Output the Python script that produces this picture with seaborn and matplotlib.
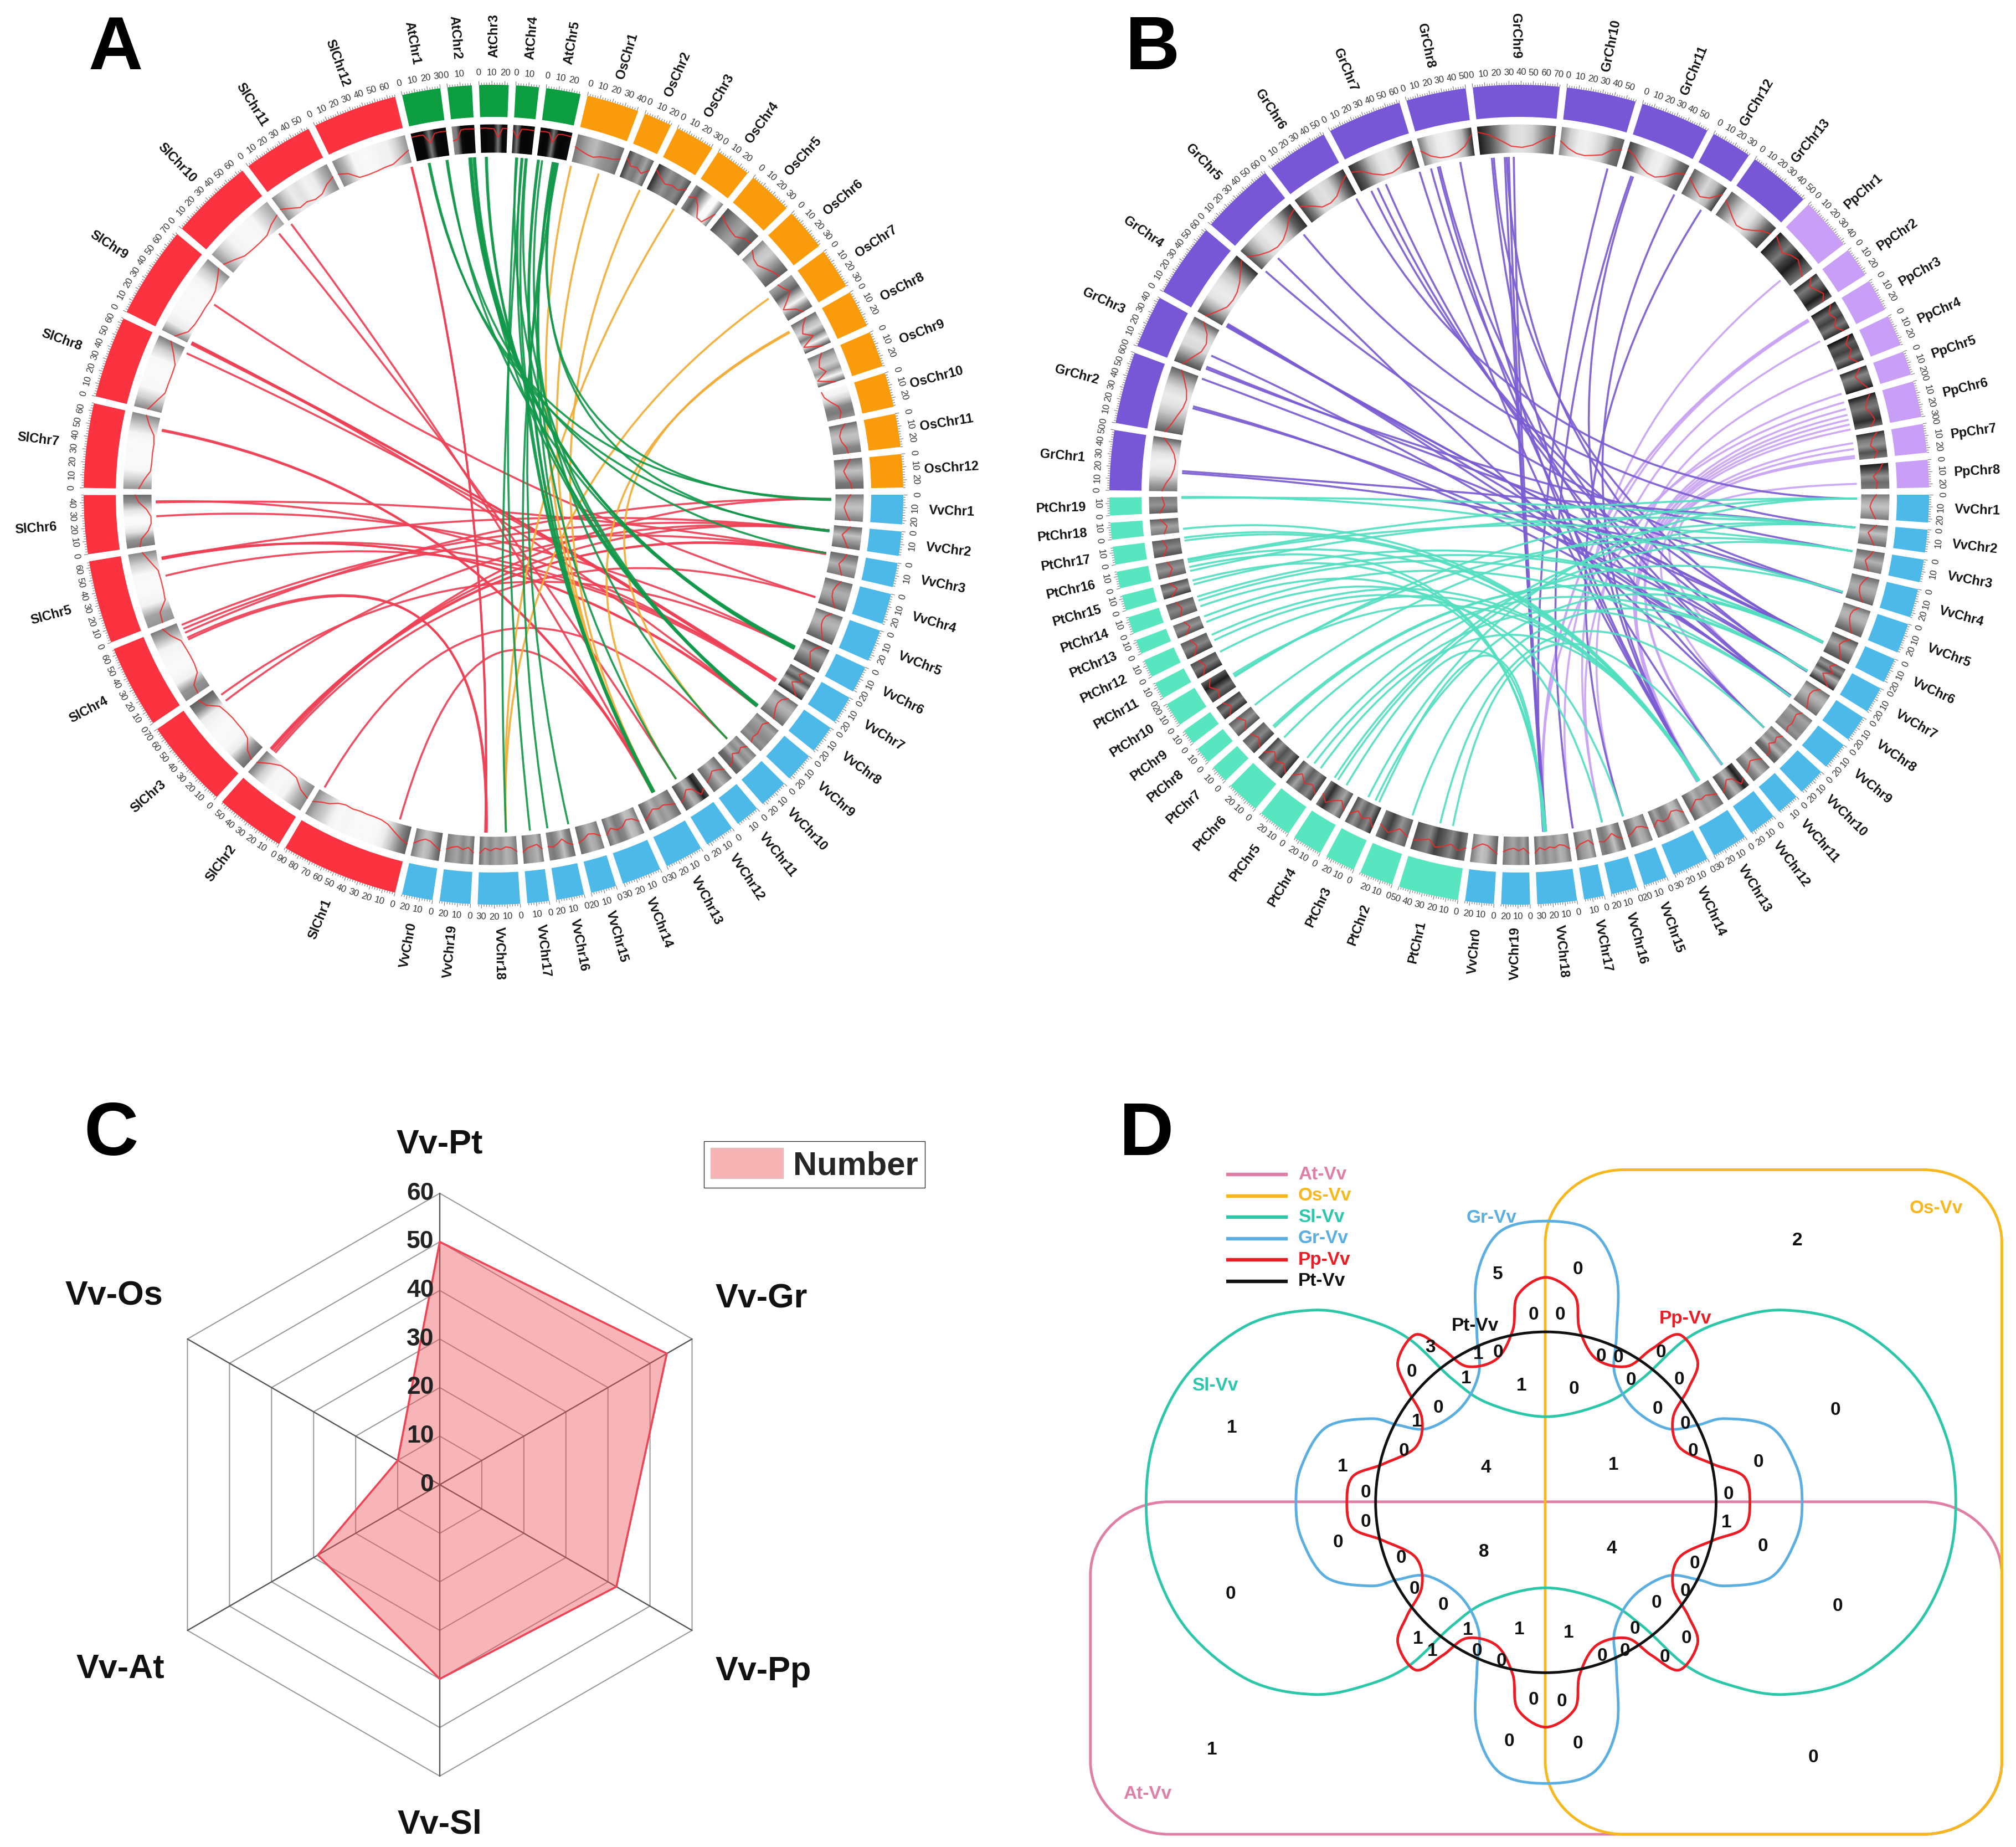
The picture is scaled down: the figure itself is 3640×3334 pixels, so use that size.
import numpy as np
import matplotlib
matplotlib.use("Agg")
import matplotlib.pyplot as plt
import seaborn as sns
from matplotlib.patches import Wedge, PathPatch, Patch, Ellipse
from matplotlib.path import Path
from matplotlib.collections import LineCollection

# ---------- chromosome sizes (Mb) ----------
AT_SIZES = [30, 19, 23, 18, 27]
OS_SIZES = [41, 22, 31, 28, 35, 33, 32, 29, 28, 27, 26, 26]
VV_SIZES = [23, 19, 19, 24, 25, 21, 22, 22, 23, 23, 19, 23, 30, 31, 20, 22, 17, 33, 24, 24]
VV_ORDER = [str(i) for i in range(1, 20)] + ["0"]
SL_SIZES = [92, 55, 70, 65, 65, 46, 66, 64, 72, 65, 55, 66]
GR_SIZES = [50, 60, 44, 62, 62, 52, 62, 50, 72, 58, 58, 34, 52]
PP_SIZES = [44, 25, 27, 26, 20, 30, 24, 23]
PT_SIZES = [50, 28, 25, 25, 28, 28, 15, 14, 13, 20, 14, 15, 12, 14, 13, 14, 15, 14, 15]

# ---------- density profiles along each chromosome (0-1) ----------
AT_DENS = [[.97,.98,.97,.6,.95,.98,.97],[.55,.6,.96,.98,.97,.96],[.97,.98,.96,.95,.6,.97,.96],
           [.9,.6,.97,.98,.97,.96],[.96,.98,.96,.6,.95,.98,.97,.96]]
OS_DENS = [[.6,.5,.42,.38,.48,.52,.55,.65],[.8,.55,.6,.45,.7],[.85,.65,.5,.6,.55,.75],
           [.55,.7,.45,.05,.03,.6],[.75,.6,.5,.45,.65,.7],[.55,.35,.3,.45,.6,.7],
           [.45,.55,.7,.4,.06,.5,.7],[.65,.4,.25,.6,.05,.75],[.6,.4,.3,.5,.05,.7],
           [.05,.1,.3,.55,.6,.5],[.65,.45,.35,.4,.55,.6],[.65,.5,.35,.45,.6,.65]]
VV_DENS = [[.6,.48,.4,.35,.42,.5,.6],[.65,.5,.35,.45,.55,.65],[.65,.55,.4,.5,.6],
           [.65,.5,.42,.45,.55,.7],[.65,.45,.4,.42,.5,.6,.7],[.75,.55,.45,.55,.65,.75],
           [.7,.5,.75,.4,.6,.85],[.65,.45,.4,.45,.55,.65],[.6,.45,.5,.55,.5,.6],
           [.6,.45,.55,.4,.65,.7],[.65,.5,.4,.55,.65],[.75,.9,.5,.4,.6,.75],
           [.65,.55,.45,.5,.4,.55,.7],[.6,.4,.35,.55,.6,.45,.65],[.6,.45,.4,.55,.65],
           [.65,.55,.35,.5,.6,.55],[.6,.4,.45,.5,.65],[.6,.45,.4,.5,.45,.55,.45,.65],
           [.65,.45,.55,.45,.5,.6],[.7,.55,.4,.35,.45,.6]]
SL_DENS = [[.7,.55,.35,.15,.06,.04,.05,.04,.08,.05,.12,.3,.4,.55],[.55,.4,.1,.05,.08,.3,.6],
           [.65,.5,.15,.06,.05,.04,.08,.15,.55,.7],[.55,.5,.12,.05,.04,.06,.1,.4,.6],
           [.5,.45,.1,.05,.04,.06,.3,.55],[.6,.5,.2,.05,.04,.2,.5,.65],
           [.5,.3,.06,.04,.05,.04,.1,.35,.55],[.55,.3,.06,.05,.04,.06,.3,.6],
           [.55,.15,.06,.04,.05,.04,.1,.3,.55],[.5,.3,.1,.06,.05,.08,.3,.45],
           [.55,.35,.15,.2,.1,.15,.4,.55],[.55,.4,.08,.05,.06,.1,.12,.3,.5]]
GR_DENS = [[.6,.45,.25,.15,.12,.2,.4,.7],[.7,.5,.35,.2,.15,.25,.45,.7],[.75,.5,.25,.2,.35,.7],
           [.75,.45,.2,.15,.2,.35,.6,.85],[.75,.45,.25,.15,.2,.4,.7,.85],[.8,.55,.25,.2,.3,.6,.85],
           [.85,.7,.4,.2,.15,.25,.55,.8],[.6,.3,.15,.12,.2,.4,.85],[.9,.75,.5,.25,.2,.3,.55,.75],
           [.55,.3,.15,.12,.2,.3,.6,.7],[.8,.6,.3,.15,.12,.3,.6,.75],[.7,.45,.25,.4,.8],
           [.7,.5,.3,.15,.2,.4,.65,.8]]
PP_DENS = [[.9,.75,.6,.8,.9,.75,.6],[.85,.6,.75,.9,.7],[.9,.65,.8,.6,.85],[.95,.7,.8,.6,.85],
           [.85,.55,.7,.9],[.9,.7,.6,.75,.85,.65],[.85,.6,.5,.75,.6],[.9,.75,.5,.65,.6]]
PT_DENS = [[.6,.75,.55,.7,.8,.55,.65,.75],[.7,.5,.8,.6],[.85,.55,.7,.5,.75],[.75,.45,.6,.85,.6],
           [.8,.55,.7,.45,.75],[.85,.6,.75,.5,.8],[.8,.55,.7],[.75,.5,.7],[.85,.6,.8],
           [.8,.65,.9,.7],[.85,.6,.75],[.8,.55,.7],[.75,.5,.65],[.7,.55,.7],[.8,.5,.75],
           [.7,.5,.65],[.75,.55,.7],[.6,.45,.7],[.7,.5,.6]]

# ---------- synteny links: (chromosome, Mb, chromosome, Mb) ----------
LINKS_SL = [("Sl12",65,"Vv18",28),("Sl12",65.5,"Vv18",28.5),("Sl10",56,"Vv12",16),("Sl11",0,"Vv13",12),
            ("Sl9",43,"Vv4",20),("Sl9",1,"Vv7",20),("Sl9",2,"Vv8",22),("Sl9",0,"Vv7",19),
            ("Sl9",1.5,"Vv7",21),("Sl7",56,"Vv13",12),("Sl7",55,"Vv13",13),("Sl6",40,"Vv7",20),
            ("Sl6",26,"Vv6",11),("Sl6",39,"Vv3",2),("Sl5",57,"Vv8",22),("Sl5",56,"Vv7",19),
            ("Sl5",57.5,"Vv8",23),("Sl5",56.5,"Vv2",5),("Sl4",62,"Vv2",5),("Sl4",58,"Vv3",2),
            ("Sl4",54,"Vv1",4),("Sl4",47,"Vv18",28),("Sl4",49,"Vv18",27),("Sl3",55,"Vv2",5),
            ("Sl2",48,"Vv4",20),("Sl2",50,"Vv1",4),("Sl2",52,"Vv3",2),("Sl2",53,"Vv2",5),
            ("Sl2",54,"Vv3",3),("Sl1",89,"Vv10",8),("Sl1",12,"Vv13",12),("Sl5",40,"Vv7",21),
            ("Sl8",60,"Vv7",20),("Sl3",62,"Vv6",12)]
LINKS_AT = [("At1",10,"Vv1",4),("At1",11,"Vv2",5),("At1",27,"Vv3",2),("At1",28,"Vv6",11),
            ("At2",13,"Vv6",10),("At2",14,"Vv6",11.5),("At2",15,"Vv6",11),("At2",17,"Vv6",12),
            ("At2",18,"Vv8",22),("At2",18.5,"Vv6",12.5),("At3",4,"Vv8",22),("At3",5,"Vv8",21),
            ("At4",4,"Vv8",23),("At4",9,"Vv13",12),("At4",13,"Vv13",12),("At4",14,"Vv8",21.5),
            ("At5",1,"Vv13",13),("At5",2,"Vv13",11),("At5",5,"Vv10",8),("At5",15,"Vv12",16),
            ("At5",16,"Vv13",12.5),("At5",17,"Vv16",0),("At5",20,"Vv16",20),("At4",5,"Vv17",9),
            ("At4",10,"Vv18",9),("At5",18,"Vv1",5),("At5",19,"Vv2",6)]
LINKS_OS = [("Os1",0,"Vv13",12),("Os1",27,"Vv13",13),("Os2",22,"Vv13",11),("Os3",31,"Vv18",9),
            ("Os7",5,"Vv18",9),("Os8",4,"Vv10",8),("Os8",5,"Vv12",16)]
LINKS_GR = [("Gr1",20,"Vv2",4),("Gr1",18,"Vv4",20),("Gr2",28,"Vv7",19),("Gr2",59,"Vv6",13),
            ("Gr3",4,"Vv3",3),("Gr3",18,"Vv8",22),("Gr4",1,"Vv6",13),("Gr4",2,"Vv6",14),
            ("Gr4",3,"Vv7",19),("Gr5",1,"Vv4",20),("Gr5",19,"Vv10",6),("Gr5",54,"Vv2",4),
            ("Gr6",50,"Vv1",4),("Gr7",9,"Vv6",13),("Gr7",16,"Vv7",19),("Gr7",25,"Vv8",22),
            ("Gr7",61,"Vv13",8),("Gr8",5,"Vv10",6),("Gr8",12,"Vv12",8),("Gr8",35,"Vv13",8),
            ("Gr9",11,"Vv13",8),("Gr9",24,"Vv18",22),("Gr9",28,"Vv18",23),("Gr9",33,"Vv18",21),
            ("Gr10",50,"Vv18",24),("Gr11",11,"Vv17",17),("Gr11",58,"Vv13",8),("Gr12",25,"Vv15",19),
            ("Gr2",30,"Vv8",21),("Gr3",6,"Vv4",21),("Gr4",4,"Vv8",22.5),("Gr9",13,"Vv6",14),
            ("Gr9",26,"Vv7",20),("Gr8",14,"Vv8",21),("Gr11",13,"Vv13",9)]
LINKS_PP = [("Pp1",34,"Vv16",15),("Pp3",1,"Vv18",22),("Pp3",2,"Vv18",23),("Pp3",3,"Vv17",17),
            ("Pp3",26,"Vv15",19),("Pp4",24,"Vv13",8),("Pp5",18,"Vv16",15),("Pp6",1,"Vv18",24),
            ("Pp6",14,"Vv13",8),("Pp6",24,"Vv13",9),("Pp6",29,"Vv12",8),("Pp7",7,"Vv13",8),
            ("Pp7",20,"Vv10",6),("Pp7",22,"Vv8",22),("Pp8",18,"Vv6",13),("Pp6",8,"Vv13",7),
            ("Pp6",19,"Vv12",9),("Pp7",13,"Vv13",10)]
LINKS_PT = [("Pt19",14,"Vv2",4),("Pt19",15,"Vv4",20),("Pt16",13,"Vv1",4),("Pt16",12,"Vv3",3),
            ("Pt16",1,"Vv2",4),("Pt15",6,"Vv6",13),("Pt14",13,"Vv6",13),("Pt14",9,"Vv7",19),
            ("Pt13",10,"Vv8",22),("Pt12",11,"Vv13",8),("Pt10",9,"Vv1",4),("Pt10",10,"Vv3",3),
            ("Pt8",13,"Vv2",4),("Pt7",4,"Vv6",13),("Pt7",6,"Vv6",14),("Pt6",24,"Vv7",19),
            ("Pt5",27,"Vv4",20),("Pt5",18,"Vv8",22),("Pt4",24,"Vv2",4),("Pt4",20,"Vv3",3),
            ("Pt3",16,"Vv1",4),("Pt3",8,"Vv6",13),("Pt2",2,"Vv7",19),("Pt1",29,"Vv10",6),
            ("Pt1",16,"Vv12",8),("Pt16",5,"Vv18",22),("Pt15",10,"Vv18",22),("Pt14",3,"Vv18",21),
            ("Pt13",4,"Vv16",15),("Pt12",5,"Vv15",19),("Pt11",12,"Vv13",8),("Pt17",15,"Vv13",8),
            ("Pt17",12,"Vv13",9),("Pt16",10,"Vv13",8),("Pt18",3,"Vv13",7),("Pt10",12,"Vv13",9),
            ("Pt5",10,"Vv13",8.5),("Pt3",4,"Vv18",23),("Pt4",10,"Vv18",23.5)]

# ---------- radar ----------
RADAR_LABELS = ["Vv-Pt", "Vv-Gr", "Vv-Pp", "Vv-Sl", "Vv-At", "Vv-Os"]
RADAR_VALUES = [50, 54, 42, 40, 29, 10]
RADAR_TICKS = [0, 10, 20, 30, 40, 50, 60]

# ---------- Venn ----------
VENN_VALUES = [0,5,2,0,0,3,0,1,0,0,0,0,0,1,0,1,0,0,0,1,0,1,0,0,0,1,4,1,0,0,0,0,1,0,0,8,4,0,0,0,0,0,0,0,0,0,1,1,1,1,0,1,0,0,0,0,0,0,0,0,0,1,0]
VENN_X = [855,725,1212,783,826,615,585,693,725,893,921,990,1020,673,942,763,849,628,985,593,1030,292,1274,572,1043,472,705,913,1149,510,1100,510,1097,465,1156,702,910,568,1045,589,1030,290,636,983,1278,948,676,760,840,595,1032,618,932,895,691,731,997,783,829,743,855,260,1238]
VENN_Y = [387,397,328,480,480,547,597,560,557,565,567,557,612,610,613,625,632,670,672,698,703,711,675,759,758,790,792,787,781,844,847,903,905,945,953,965,958,977,988,1041,1045,1051,1074,1069,1076,1122,1125,1123,1130,1143,1142,1168,1167,1178,1168,1188,1180,1267,1271,1352,1357,1369,1385]
VENN_SETS = ["At-Vv", "Os-Vv", "Sl-Vv", "Gr-Vv", "Pp-Vv", "Pt-Vv"]
VENN_COLORS = ["#E07FA6", "#F6B81E", "#2CC7A8", "#5BAEE0", "#EC1C24", "#111111"]
VENN_NAME_X = [155, 1438, 265, 715, 1030, 688]
VENN_NAME_Y = [1460, 262, 625, 282, 488, 503]
SL_OUTLINE = [(0,175),(97,203),(157,253),(227,333),(297,373),(387,393),(497,363),(597,263),(652,133),(667,0)]
GR_OUTLINE = [(0,575),(77,553),(115,463),(115,343),(112,263),(142,193),(197,151),(247,158),(292,171),(367,153),(408,73),(417,0)]
PP_OUTLINE = [(0,460),(47,423),(55,353),(82,293),(132,278),(172,313),(217,343),(247,288),(232,233),(207,173),(217,113),(272,78),(322,53),(332,0)]

# ---------- styling ----------
C_AT, C_OS, C_VV, C_SL = "#0B9D3F", "#F99B0B", "#4CB9E9", "#FB3340"
C_GR, C_PP, C_PT = "#7757D6", "#C89EF6", "#57E6C0"
L_SL, L_AT, L_OS, L_GR, L_PP, L_PT = "#EE4055", "#12984A", "#F2AC35", "#7A5CD2", "#C9A4F4", "#52DFC0"

sns.set_theme(style="white")
plt.rcParams["font.family"] = ["Liberation Sans", "DejaVu Sans"]

W, H = 3640, 3334
fig = plt.figure(figsize=(W / 100, H / 100), dpi=100, facecolor="white")
ax = fig.add_axes([0, 0, 1, 1])
ax.set_xlim(0, W); ax.set_ylim(H, 0); ax.axis("off")

R_OUT, R_IN, H_OUT, H_IN, R_LINK, R_LABEL = 740, 682, 668, 618, 610, 828
GAP = 1.0


def polar(cx, cy, r, t):
    t = np.radians(t)
    return cx + r * np.sin(t), cy - r * np.cos(t)


def label_rot(t):
    t = t % 360
    return 90 - t if t <= 180 else 270 - t


def tick_rot(t):
    t = t % 360
    return 180 - t if 90 < t < 270 else -t


def draw_circos(cx, cy, groups, link_sets):
    total = sum(sum(g["sizes"]) for g in groups)
    n = sum(len(g["sizes"]) for g in groups)
    scale = (360 - n * GAP) / total
    t = 90.0
    layout = {}
    ticks = []
    for g in groups:
        for name, size, dens in zip(g["names"], g["sizes"], g["dens"]):
            t0, t1 = t, t + size * scale
            layout[name.replace("Chr", "")] = t0
            ax.add_patch(Wedge((cx, cy), R_OUT, t0 - 90, t1 - 90, width=R_OUT - R_IN,
                               facecolor=g["color"], edgecolor="none"))
            d = np.array(dens)
            th = np.linspace(t0, t1, len(d))
            rr = np.array([H_IN, H_OUT])
            X = np.array([polar(cx, cy, r, th)[0] for r in rr])
            Y = np.array([polar(cx, cy, r, th)[1] for r in rr])
            ax.pcolormesh(X, Y, np.vstack([d, d]), cmap="Greys", vmin=0, vmax=1, shading="gouraud")
            lx, ly = polar(cx, cy, H_IN + d * (H_OUT - H_IN) * 0.9, th)
            ax.plot(lx, ly, color="#F02828", lw=1.6, alpha=0.85, solid_capstyle="round")
            for mb in range(0, size + 1, 2):
                tk = t0 + mb * scale
                ticks.append([polar(cx, cy, R_OUT, tk), polar(cx, cy, R_OUT + (7 if mb % 10 == 0 else 4), tk)])
            for mb in range(0, size + 1, 10):
                tk = t0 + mb * scale
                x, y = polar(cx, cy, R_OUT + 22, tk)
                ax.text(x, y, str(mb), fontsize=12, color="#333333", rotation=tick_rot(tk),
                        ha="center", va="center", rotation_mode="anchor")
            tm = (t0 + t1) / 2
            x, y = polar(cx, cy, R_LABEL, tm)
            ax.text(x, y, name, fontsize=17, fontweight="bold", color="#111111", rotation=label_rot(tm),
                    ha="center", va="center", rotation_mode="anchor")
            t = t1 + GAP
    ax.add_collection(LineCollection(ticks, colors="#777777", linewidths=0.8))
    for links, color in link_sets:
        for a, ma, b, mb in links:
            p0 = polar(cx, cy, R_LINK, layout[a] + ma * scale)
            p1 = polar(cx, cy, R_LINK, layout[b] + mb * scale)
            path = Path([p0, (cx, cy), p1], [Path.MOVETO, Path.CURVE3, Path.CURVE3])
            ax.add_patch(PathPatch(path, facecolor="none", edgecolor=color, lw=2.6, alpha=0.92))


def names(prefix, count):
    return [f"{prefix}Chr{i + 1}" for i in range(count)]


VV_GROUP = dict(names=[f"VvChr{i}" for i in VV_ORDER], sizes=VV_SIZES, dens=VV_DENS, color=C_VV)
draw_circos(891, 893, [VV_GROUP,
    dict(names=names("Sl", 12), sizes=SL_SIZES, dens=SL_DENS, color=C_SL),
    dict(names=names("At", 5), sizes=AT_SIZES, dens=AT_DENS, color=C_AT),
    dict(names=names("Os", 12), sizes=OS_SIZES, dens=OS_DENS, color=C_OS)],
    [(LINKS_SL, L_SL), (LINKS_OS, L_OS), (LINKS_AT, L_AT)])
draw_circos(2743, 893, [VV_GROUP,
    dict(names=names("Pt", 19), sizes=PT_SIZES, dens=PT_DENS, color=C_PT),
    dict(names=names("Gr", 13), sizes=GR_SIZES, dens=GR_DENS, color=C_GR),
    dict(names=names("Pp", 8), sizes=PP_SIZES, dens=PP_DENS, color=C_PP)],
    [(LINKS_PP, L_PP), (LINKS_GR, L_GR), (LINKS_PT, L_PT)])

for letter, x, y in [("A", 209, 90), ("B", 2081, 90), ("C", 201, 2050), ("D", 2070, 2050)]:
    ax.text(x, y, letter, fontsize=98, fontweight="bold", color="black", ha="center", va="center")

# ---------- panel C: radar ----------
RC = (794, 2680); RR = 526
ax_c = fig.add_axes([(RC[0] - RR) / W, 1 - (RC[1] + RR) / H, 2 * RR / W, 2 * RR / H])
ax_c.set_xlim(-60, 60); ax_c.set_ylim(-60, 60); ax_c.axis("off")
ang = np.radians(np.arange(6) * 60)
ux, uy = np.sin(ang), np.cos(ang)
for v in RADAR_TICKS[1:]:
    ax_c.plot(np.r_[ux, ux[0]] * v, np.r_[uy, uy[0]] * v, color="#9A9A9A", lw=1.5, clip_on=False)
for i in range(6):
    ax_c.plot([0, ux[i] * 60], [0, uy[i] * 60], color="#555555", lw=1.7, clip_on=False)
vals = np.array(RADAR_VALUES, float)
ax_c.fill(vals * ux, vals * uy, facecolor="#F04F55", alpha=0.42, edgecolor="none", label="Number", zorder=3)
sns.lineplot(x=np.r_[vals * ux, vals[0] * ux[0]], y=np.r_[vals * uy, vals[0] * uy[0]], sort=False,
             estimator=None, color="#EE4455", lw=2.6, ax=ax_c, zorder=4, legend=False)
for v in RADAR_TICKS:
    ax_c.text(-1.2, v, str(v), fontsize=32, fontweight="bold", color="#222222", ha="right", va="center", zorder=5)
for lab, a, b, r in zip(RADAR_LABELS, ux, uy, [70, 76.5, 77, 70, 76, 77.5]):
    ax_c.text(a * r, b * r, lab, fontsize=44, fontweight="bold", color="#111111", ha="center", va="center")
ax_c.legend(handles=[Patch(facecolor="#F8B4B4", edgecolor="#D8C0C0", label="Number")], loc="upper left",
            bbox_to_anchor=(1271 / W, 1 - 2060 / H), bbox_transform=fig.transFigure, frameon=True,
            fancybox=False, edgecolor="#333333", facecolor="white", framealpha=1, borderaxespad=0,
            borderpad=0.2, handlelength=2.2, handleheight=1.05, handletextpad=0.3,
            prop=dict(size=43, weight="bold"))

# ---------- panel D: six-way Venn (axes units match a 1568-square frame) ----------
ax_d = fig.add_axes([1900 / W, 1 - (1950 + 1384) / H, 1740 / W, 1384 / H])
ax_d.set_xlim(0, 1568); ax_d.set_ylim(1568, 0); ax_d.axis("off")
VC = (803, 863)
LEFT_SQUEEZE = 0.975


def rounded(x0, y0, x1, y1, rx, ry):
    k = 0.5523
    v = [(x0 + rx, y0), (x1 - rx, y0), (x1 - rx + k * rx, y0), (x1, y0 + ry - k * ry), (x1, y0 + ry),
         (x1, y1 - ry), (x1, y1 - ry + k * ry), (x1 - rx + k * rx, y1), (x1 - rx, y1),
         (x0 + rx, y1), (x0 + rx - k * rx, y1), (x0, y1 - ry + k * ry), (x0, y1 - ry),
         (x0, y0 + ry), (x0, y0 + ry - k * ry), (x0 + rx - k * rx, y0), (x0 + rx, y0)]
    c = [Path.MOVETO, Path.LINETO, Path.CURVE4, Path.CURVE4, Path.CURVE4, Path.LINETO,
         Path.CURVE4, Path.CURVE4, Path.CURVE4, Path.LINETO, Path.CURVE4, Path.CURVE4, Path.CURVE4,
         Path.LINETO, Path.CURVE4, Path.CURVE4, Path.CURVE4]
    return Path(v, c)


def smooth_outline(q):
    q = list(q)
    half = q + [(x, -y) for x, y in reversed(q[:-1])]
    pts = half + [(-x * LEFT_SQUEEZE, y) for x, y in reversed(half[1:-1])]
    p = np.array([(VC[0] + x, VC[1] - y) for x, y in pts], float)
    n = len(p)
    v, c = [p[0]], [Path.MOVETO]
    for i in range(n):
        a, b, d, e = p[i - 1], p[i], p[(i + 1) % n], p[(i + 2) % n]
        v += [b + (d - a) / 6, d - (e - b) / 6, d]
        c += [Path.CURVE4] * 3
    return Path(np.array(v), c)


LW = 3.5
ax_d.add_patch(PathPatch(rounded(62, 862, 1545, 1542, 128, 150), fc="none", ec=VENN_COLORS[0], lw=LW))
ax_d.add_patch(PathPatch(rounded(802, 183, 1545, 1542, 128, 150), fc="none", ec=VENN_COLORS[1], lw=LW))
for outline, col in zip([SL_OUTLINE, GR_OUTLINE, PP_OUTLINE], VENN_COLORS[2:5]):
    ax_d.add_patch(PathPatch(smooth_outline(outline), fc="none", ec=col, lw=LW))
ax_d.add_patch(Ellipse(VC, 554, 697, fc="none", ec=VENN_COLORS[5], lw=LW))
for val, x, y in zip(VENN_VALUES, VENN_X, VENN_Y):
    ax_d.text(x, y, str(val), fontsize=24, fontweight="bold", color="#111111", ha="center", va="center", zorder=6)
for i, (lab, col, x, y) in enumerate(zip(VENN_SETS, VENN_COLORS, VENN_NAME_X, VENN_NAME_Y)):
    ax_d.text(x, y, lab, fontsize=24, fontweight="bold", color=col, ha="center", va="center")
    ly = 193 + i * 43.6
    ax_d.plot([283, 383], [ly, ly], color=col, lw=4.6, solid_capstyle="butt")
    ax_d.text(400, ly, lab, fontsize=24, fontweight="bold", color=col, ha="left", va="center")

fig.savefig("out.png", dpi=100, facecolor="white")
